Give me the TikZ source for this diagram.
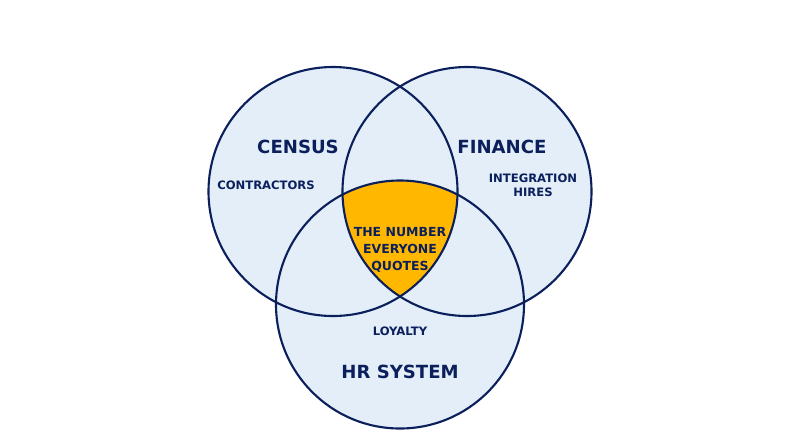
\documentclass[tikz,border=0pt]{standalone}
\usepackage{fontspec}
\setmainfont{DejaVu Sans}
\definecolor{navy}{HTML}{0B1F5C}
\definecolor{paleblue}{HTML}{E3EEF8}
\definecolor{gold}{HTML}{FFB700}
\tikzset{
  set/.style = {draw=navy, line width=1.2pt, fill=paleblue},
  big/.style = {text=navy, font=\bfseries\fontsize{10.3}{12}\selectfont},
  small/.style = {text=navy, font=\bfseries\fontsize{6.6}{8}\selectfont, align=center}
}

\begin{document}
\begin{tikzpicture}[x=0.02cm,y=-0.02cm]
  \useasboundingbox (0,0) rectangle (800,447);
  \coordinate (census) at (333,191.5);
  \coordinate (finance) at (467,191.5);
  \coordinate (hr) at (400,304.5);
  \fill[paleblue] (census) circle (124.5);
  \fill[paleblue] (finance) circle (124.5);
  \fill[paleblue] (hr) circle (124);
  \begin{scope}
    \clip (census) circle (124.5);
    \clip (finance) circle (124.5);
    \fill[gold] (hr) circle (124);
  \end{scope}
  \draw[set, fill=none] (census) circle (124.5);
  \draw[set, fill=none] (finance) circle (124.5);
  \draw[set, fill=none] (hr) circle (124);
  \node[big] (censuslabel) at (298,147) {CENSUS};
  \node[big] (financelabel) at (502,147) {FINANCE};
  \node[big] (hrlabel) at (400,372) {HR SYSTEM};
  \node[small] (contractors) at (266,185) {CONTRACTORS};
  \node[small] (hires) at (533,185) {INTEGRATION\\HIRES};
  \node[small] (loyalty) at (400,331) {LOYALTY};
  \node[small, font=\bfseries\fontsize{7.1}{9.5}\selectfont] (number) at (400,250) {THE NUMBER\\EVERYONE\\QUOTES};
\end{tikzpicture}
\end{document}
